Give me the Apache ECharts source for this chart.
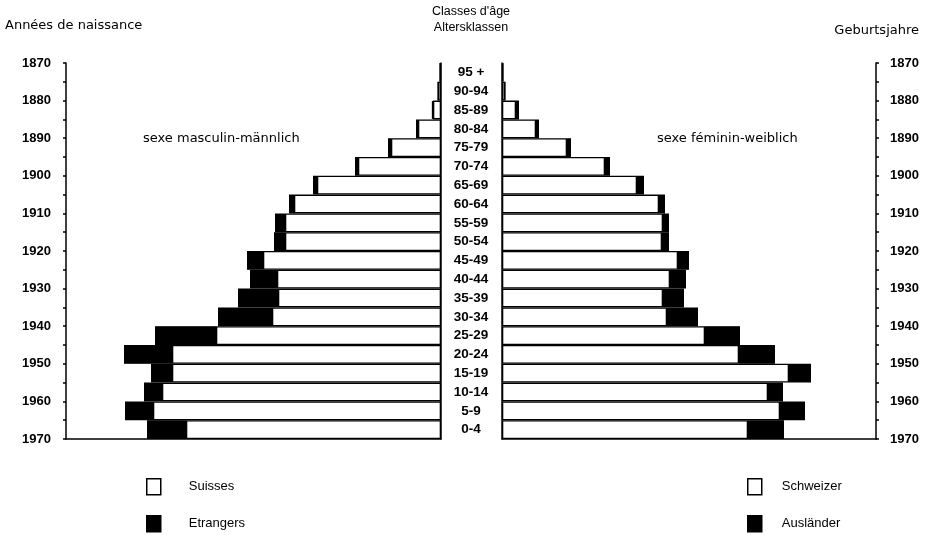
<!DOCTYPE html>
<html>
<head>
<meta charset="utf-8">
<script src="https://cdn.jsdelivr.net/npm/echarts@6/dist/echarts.min.js"></script>
<style>html,body{margin:0;padding:0;background:#fff;}#c{width:927px;height:535px;}</style>
</head>
<body>
<div id="c"></div>
<script>
var ages = ['95 +','90-94','85-89','80-84','75-79','70-74','65-69','60-64','55-59','50-54','45-49','40-44','35-39','30-34','25-29','20-24','15-19','10-14','5-9','0-4'];
var maleSwiss     = [1, 3, 8, 23, 50, 83, 124, 147, 156, 156, 178, 164, 163, 169, 225, 269, 269, 279, 288, 255];
var maleForeign   = [0, 0, 1, 2, 3, 3, 4, 5, 10, 11, 16, 27, 40, 54, 61, 48, 21, 18, 28, 39];
var femaleSwiss   = [1, 3, 14, 34, 65, 103, 135, 157, 161, 160, 176, 168, 161, 165, 203, 237, 287, 266, 278, 246];
var femaleForeign = [0, 0, 3, 3, 4, 5, 7, 6, 6, 7, 11, 16, 21, 31, 35, 36, 22, 15, 25, 36];
var yearMin = 1870, yearMax = 1970;

var FONT = 'Liberation Sans';
var WIDE = 'DejaVu Sans';
var ink = '#000';
var chart = echarts.init(document.getElementById('c'));
var lineStyle = {color: ink, width: 1.5};
function yearFmt(v){ return (v % 10 === 0) ? String(v) : ''; }
var barBorder = {borderColor: ink, borderWidth: 1.3};
var txt = {fontSize: 12.5, fontWeight: 'normal', color: ink, fontFamily: FONT};
var wtxt = {fontSize: 13, fontWeight: 'normal', color: ink, fontFamily: WIDE};

function legendItem(name, left, top, pad) {
  return {data: [name], left: left, top: top, itemWidth: 14, itemHeight: 16, padding: 0,
    selectedMode: false, icon: 'rect', itemStyle: {borderColor: ink, borderWidth: 1.5},
    textStyle: {fontSize: 13, color: ink, fontFamily: FONT, padding: [0, 0, 0, pad]}};
}

chart.setOption({
  animation: false,
  textStyle: {fontFamily: FONT, color: ink},
  title: [
    {text: 'Années de naissance', left: 5, top: 19, padding: 0, textStyle: wtxt},
    {text: "Classes d'âge", left: 471, textAlign: 'center', top: 5, padding: 0, textStyle: txt},
    {text: 'Altersklassen', left: 471, textAlign: 'center', top: 21, padding: 0, textStyle: txt},
    {text: 'Geburtsjahre', right: 8, top: 24, padding: 0, textStyle: wtxt},
    {text: 'sexe masculin-männlich', left: 143, top: 132, padding: 0, textStyle: wtxt},
    {text: 'sexe féminin-weiblich', left: 657, top: 132, padding: 0, textStyle: wtxt}
  ],
  legend: [
    legendItem('Suisses', 146, 478, 23),
    legendItem('Etrangers', 146, 515, 23),
    legendItem('Schweizer', 747, 478, 15),
    legendItem('Ausländer', 747, 515, 15)
  ],
  grid: [
    {left: 66, width: 375, top: 63, height: 376},
    {left: 502, width: 374, top: 63, height: 376}
  ],
  xAxis: [
    {gridIndex: 0, type: 'value', inverse: true, min: 0, max: 375, axisLine: {show: true, lineStyle: lineStyle},
     axisTick: {show: false}, axisLabel: {show: false}, splitLine: {show: false}},
    {gridIndex: 1, type: 'value', min: 0, max: 374, axisLine: {show: true, lineStyle: lineStyle},
     axisTick: {show: false}, axisLabel: {show: false}, splitLine: {show: false}}
  ],
  yAxis: [
    {gridIndex: 0, type: 'category', data: ages, inverse: true, position: 'right',
     axisLine: {show: true, lineStyle: lineStyle}, axisTick: {show: false}, axisLabel: {show: false}},
    {gridIndex: 0, type: 'value', min: yearMin, max: yearMax, interval: 5, inverse: true, position: 'left',
     axisLine: {show: true, lineStyle: lineStyle}, axisTick: {show: true, length: 3, lineStyle: lineStyle},
     axisLabel: {formatter: yearFmt, margin: 15, fontSize: 13, fontWeight: 'bold', color: ink, fontFamily: FONT}, splitLine: {show: false}},
    {gridIndex: 1, type: 'category', data: ages, inverse: true, position: 'left',
     axisLine: {show: true, lineStyle: lineStyle}, axisTick: {show: false},
     axisLabel: {show: true, align: 'center', verticalAlign: 'middle', padding: [7, 0, 0, 0], margin: 31, fontSize: 13.5, fontWeight: 'bold', color: ink, fontFamily: FONT}},
    {gridIndex: 1, type: 'value', min: yearMin, max: yearMax, interval: 5, inverse: true, position: 'right',
     axisLine: {show: true, lineStyle: lineStyle}, axisTick: {show: true, length: 3, lineStyle: lineStyle},
     axisLabel: {formatter: yearFmt, margin: 14, fontSize: 13, fontWeight: 'bold', color: ink, fontFamily: FONT}, splitLine: {show: false}}
  ],
  series: [
    {name: 'Suisses', type: 'bar', xAxisIndex: 0, yAxisIndex: 0, stack: 'm', data: maleSwiss,
     barCategoryGap: '0%', itemStyle: Object.assign({color: '#fff'}, barBorder)},
    {name: 'Etrangers', type: 'bar', xAxisIndex: 0, yAxisIndex: 0, stack: 'm', data: maleForeign,
     barCategoryGap: '0%', itemStyle: Object.assign({color: ink}, barBorder)},
    {name: 'Schweizer', type: 'bar', xAxisIndex: 1, yAxisIndex: 2, stack: 'f', data: femaleSwiss,
     barCategoryGap: '0%', itemStyle: Object.assign({color: '#fff'}, barBorder)},
    {name: 'Ausländer', type: 'bar', xAxisIndex: 1, yAxisIndex: 2, stack: 'f', data: femaleForeign,
     barCategoryGap: '0%', itemStyle: Object.assign({color: ink}, barBorder)}
  ]
});
</script>
</body>
</html>
